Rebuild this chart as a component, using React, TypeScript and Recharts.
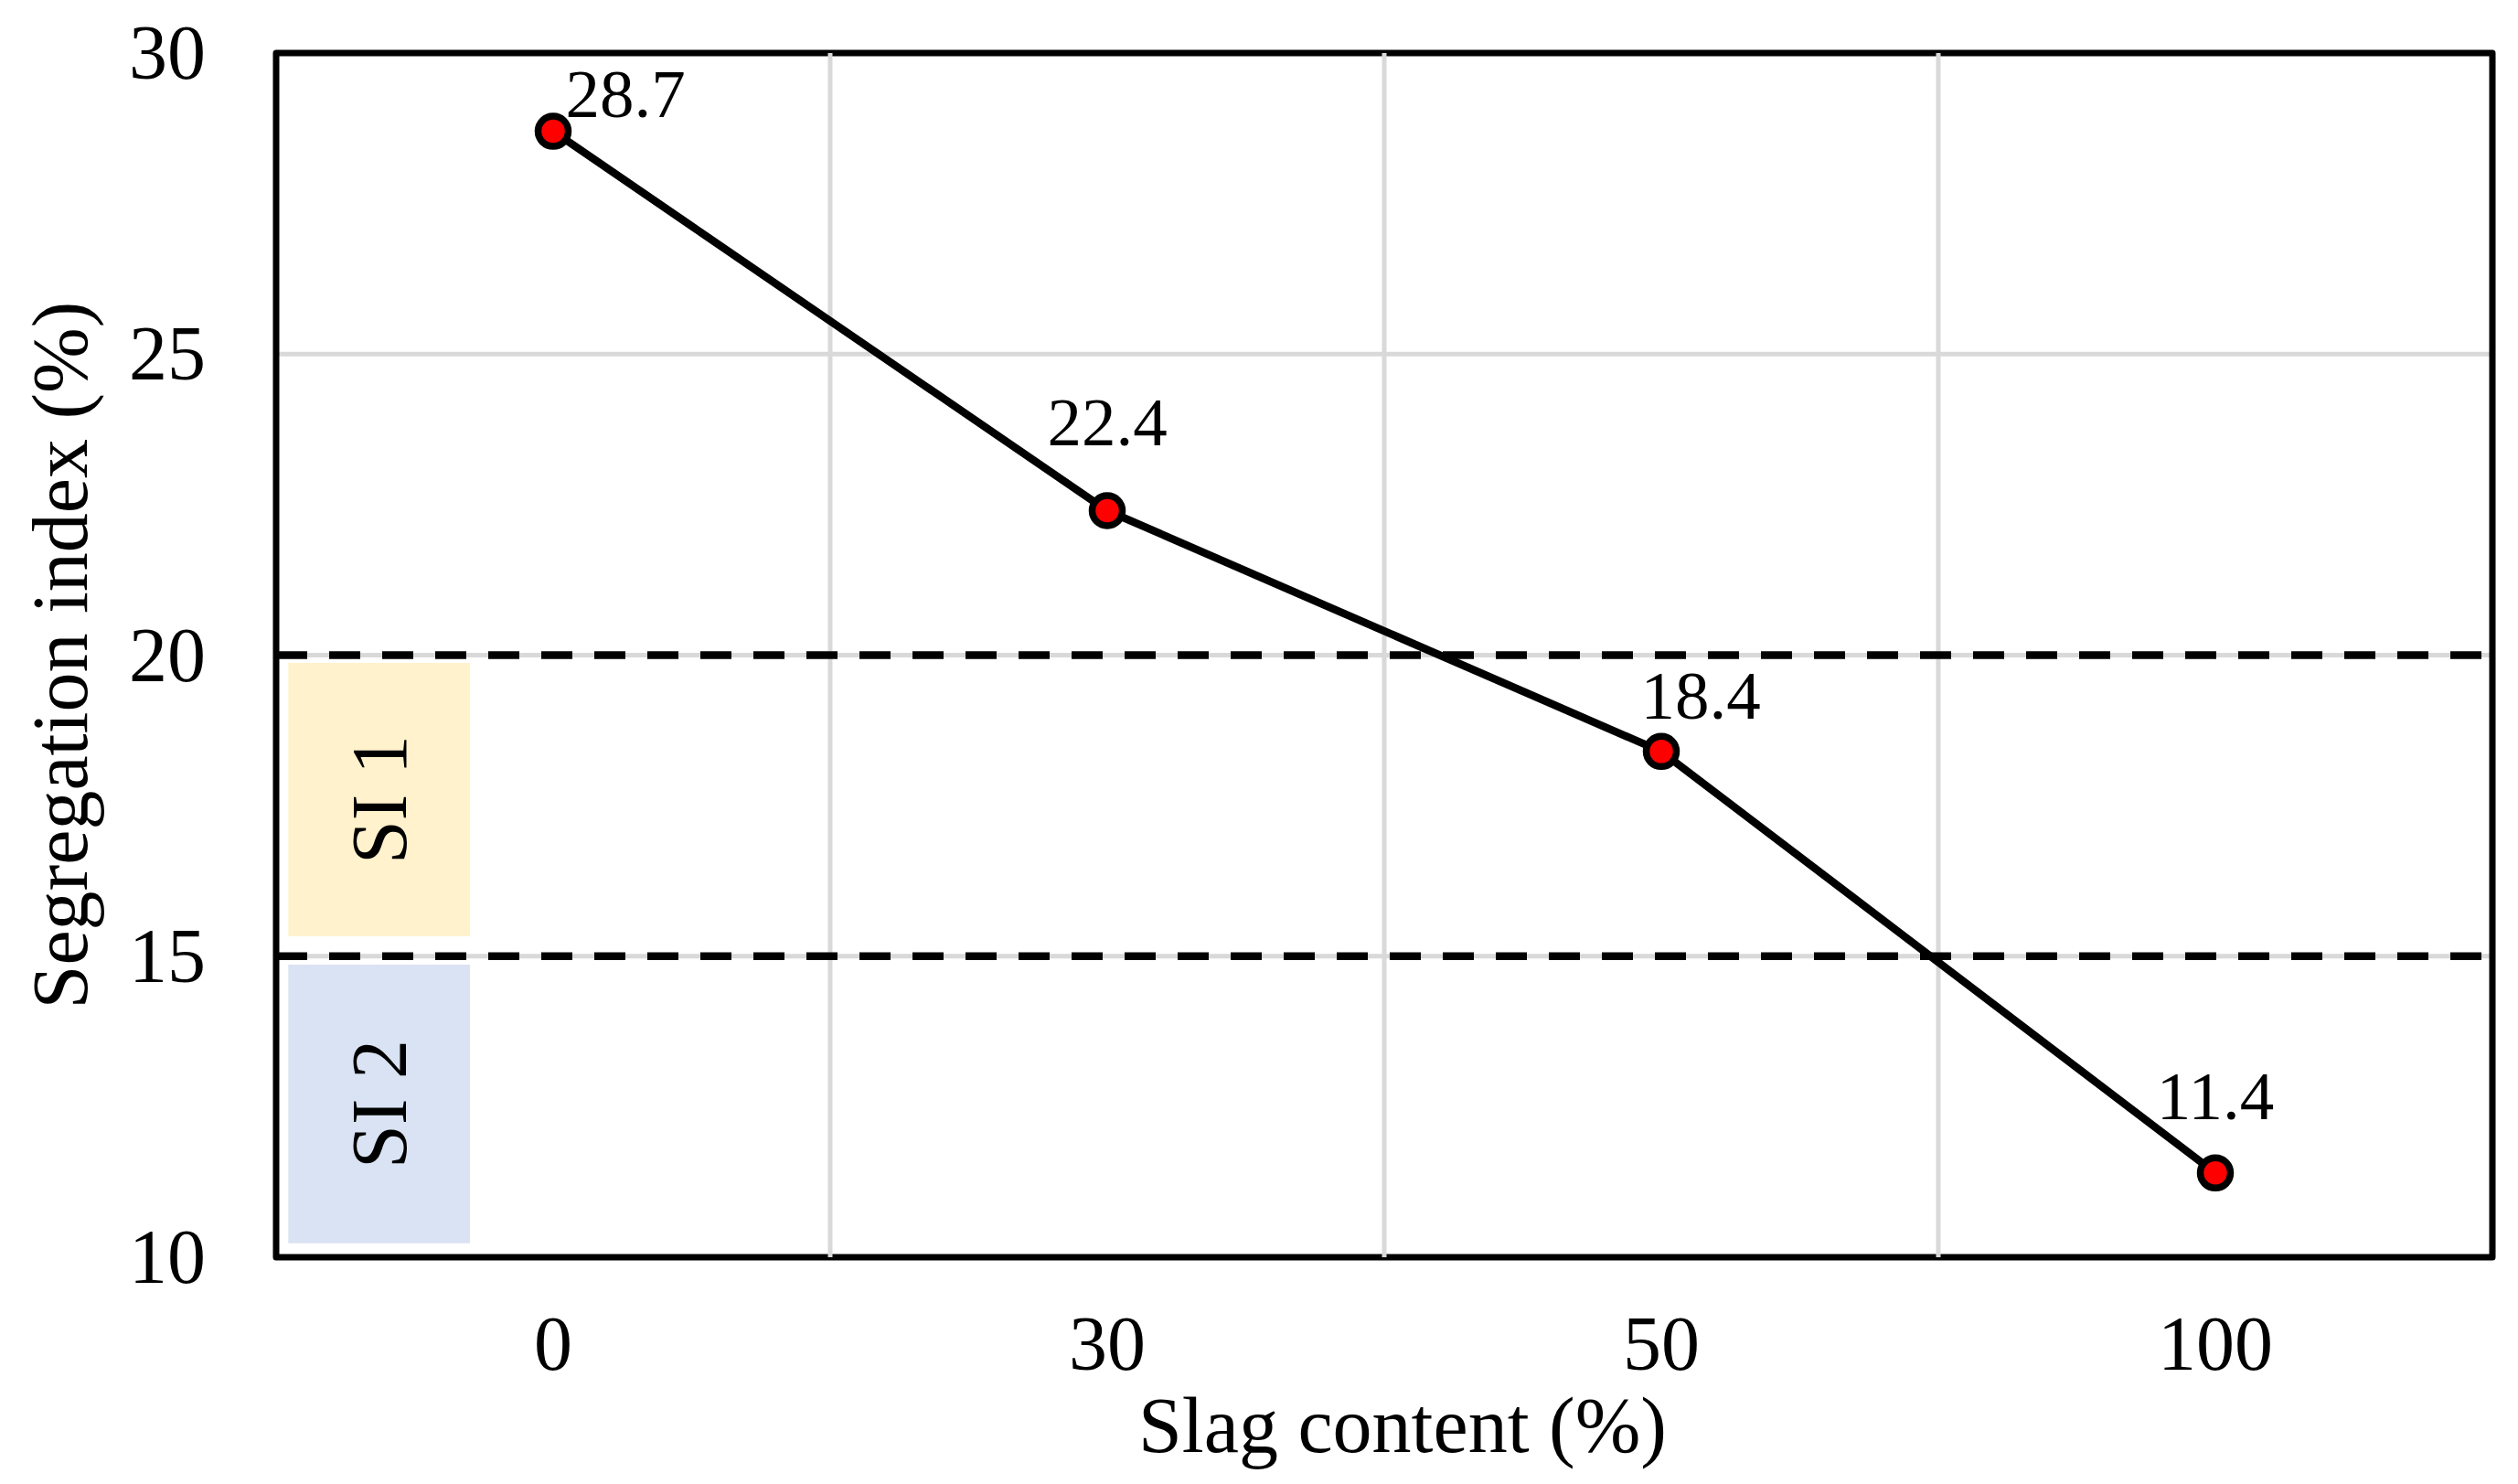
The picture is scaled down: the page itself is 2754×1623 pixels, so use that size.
import { LineChart, Line, XAxis, YAxis, CartesianGrid, ReferenceLine, ReferenceArea, LabelList } from "recharts";

const CATEGORIES = ["0", "30", "50", "100"];
const SI_VALUES = [28.7, 22.4, 18.4, 11.4];
const Y_TICKS = [10, 15, 20, 25, 30];
const X_TICKS = [0, 1, 2, 3];
const X_GRID = [0.5, 1.5, 2.5];
const LIMITS = [20, 15];
const ZONE_NAMES = ["SI 1", "SI 2"];
const ZONE_LOW = [15.33, 10.23];
const ZONE_HIGH = [19.87, 14.86];

const ZONE_COLORS = ["#FFF2CC", "#DAE3F3"];
const ZONE_X = [-0.478, -0.15];
const LABEL_SHIFT = [
  { dx: 79, dy: -16 },
  { dx: 0, dy: -71 },
  { dx: 43, dy: -36 },
  { dx: 0, dy: -59 },
];
const FONT = '"Liberation Serif", "Times New Roman", serif';
const GRID = "#D9D9D9";

const data = CATEGORIES.map((c, i) => ({ idx: i, slag: c, si: SI_VALUES[i] }));

function YTick({ x, y, payload }: any) {
  return (
    <text x={x - 77} y={y + 28} textAnchor="end" fontSize={84} fontFamily={FONT} fill="#000">
      {payload.value}
    </text>
  );
}

function XTick({ x, y, payload }: any) {
  return (
    <text x={x} y={y + 123} textAnchor="middle" fontSize={84} fontFamily={FONT} fill="#000">
      {CATEGORIES[payload.value]}
    </text>
  );
}

function zoneLabel(name: string) {
  return (p: any) => {
    const vb = p.viewBox;
    const cx = vb.x + vb.width / 2 + 29;
    const cy = vb.y + vb.height / 2;
    return (
      <text x={cx} y={cy} transform={`rotate(-90 ${cx} ${cy})`} textAnchor="middle" fontSize={86} fontFamily={FONT} fill="#000">
        {name}
      </text>
    );
  };
}

function pointLabel(p: any) {
  const i = p.index ?? SI_VALUES.indexOf(Number(p.value));
  const s = LABEL_SHIFT[i] || { dx: 0, dy: -40 };
  return (
    <text x={p.x + s.dx} y={p.y + s.dy} textAnchor="middle" fontSize={75} fontFamily={FONT} fill="#000">
      {p.value}
    </text>
  );
}

function yTitle(p: any) {
  const vb = p.viewBox;
  const x = vb.x + 95;
  const y = vb.y + vb.height / 2;
  return (
    <text x={x} y={y} transform={`rotate(-90 ${x} ${y})`} textAnchor="middle" fontSize={86} fontFamily={FONT} fill="#000">
      Segregation index (%)
    </text>
  );
}

function xTitle(p: any) {
  const vb = p.viewBox;
  return (
    <text x={vb.x + vb.width / 2 + 20} y={vb.y + 213} textAnchor="middle" fontSize={86} fontFamily={FONT} fill="#000">
      Slag content (%)
    </text>
  );
}

export default function App() {
  return (
    <div style={{ position: "absolute", left: 0, top: 0, background: "#fff" }}>
      <LineChart width={2754} height={1623} data={data} margin={{ top: 58, right: 28, bottom: 0, left: 0 }}>
        <CartesianGrid vertical={false} stroke={GRID} strokeWidth={5} />
        {X_GRID.map((g) => (
          <ReferenceLine key={g} x={g} stroke={GRID} strokeWidth={5} />
        ))}
        {ZONE_NAMES.map((n, i) => (
          <ReferenceArea
            key={n}
            x1={ZONE_X[0]}
            x2={ZONE_X[1]}
            y1={ZONE_LOW[i]}
            y2={ZONE_HIGH[i]}
            fill={ZONE_COLORS[i]}
            fillOpacity={1}
            stroke="none"
            label={zoneLabel(n)}
          />
        ))}
        {LIMITS.map((v) => (
          <ReferenceLine key={v} y={v} stroke="#000" strokeWidth={8.5} strokeDasharray="34 24" />
        ))}
        <XAxis
          dataKey="idx"
          type="number"
          domain={[-0.5, 3.5]}
          ticks={X_TICKS}
          height={248}
          tickSize={0}
          tickMargin={0}
          axisLine={false}
          tickLine={false}
          tick={<XTick />}
          label={xTitle}
        />
        <YAxis
          type="number"
          domain={[10, 30]}
          ticks={Y_TICKS}
          width={302}
          tickSize={0}
          tickMargin={0}
          axisLine={false}
          tickLine={false}
          tick={<YTick />}
          label={yTitle}
        />
        <ReferenceArea
          x1={-0.5}
          x2={3.5}
          y1={10}
          y2={30}
          fill="none"
          stroke="#000"
          strokeWidth={7}
          strokeLinejoin="round"
        />
        <Line
          type="linear"
          dataKey="si"
          stroke="#000"
          strokeWidth={8.5}
          dot={{ r: 16.5, fill: "#FF0000", stroke: "#000", strokeWidth: 7.5 }}
          activeDot={false}
          isAnimationActive={false}
        >
          <LabelList dataKey="si" content={pointLabel} />
        </Line>
      </LineChart>
    </div>
  );
}
